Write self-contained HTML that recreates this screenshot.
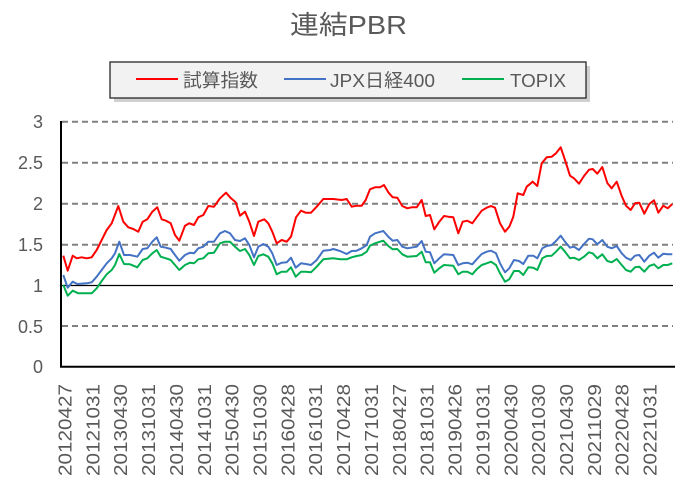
<!DOCTYPE html>
<html><head><meta charset="utf-8"><style>
body{margin:0;background:#fff;}
svg{display:block;font-family:"Liberation Sans","Noto Sans CJK JP",sans-serif;}
</style></head><body>
<svg width="694" height="485" viewBox="0 0 694 485">
<text x="290" y="34" font-size="26" fill="#595959" textLength="117" lengthAdjust="spacingAndGlyphs">連結PBR</text>
<rect x="114" y="66" width="476" height="36" fill="#aaa" opacity="0.55"/>
<rect x="110" y="62" width="476" height="36" fill="#f2f2f2" stroke="#262626" stroke-width="1.3"/>
<line x1="136" y1="79" x2="178" y2="79" stroke="#ff0000" stroke-width="2"/>
<text x="183" y="87" font-size="18.5" fill="#595959" textLength="75" lengthAdjust="spacingAndGlyphs">試算指数</text>
<line x1="284" y1="79" x2="326" y2="79" stroke="#4472c4" stroke-width="2"/>
<text x="330" y="87" font-size="18.5" fill="#595959" textLength="105" lengthAdjust="spacingAndGlyphs">JPX日経400</text>
<line x1="462" y1="79" x2="504" y2="79" stroke="#00b050" stroke-width="2"/>
<text x="510" y="87" font-size="18.5" fill="#595959" textLength="56" lengthAdjust="spacingAndGlyphs">TOPIX</text>
<g stroke="#808080" stroke-width="2" stroke-dasharray="6,4">
<line x1="62" y1="121.7" x2="673" y2="121.7"/>
<line x1="62" y1="162.8" x2="673" y2="162.8"/>
<line x1="62" y1="203.8" x2="673" y2="203.8"/>
<line x1="62" y1="244.7" x2="673" y2="244.7"/>
<line x1="62" y1="326" x2="673" y2="326"/>
</g>
<line x1="62" y1="285.5" x2="673" y2="285.5" stroke="#000" stroke-width="1.3"/>
<line x1="61" y1="121" x2="61" y2="367" stroke="#000" stroke-width="2"/>
<line x1="60" y1="366.7" x2="675" y2="366.7" stroke="#000" stroke-width="2"/>
<g font-size="18" fill="#595959" text-anchor="end">
<text x="43" y="128">3</text><text x="43" y="169">2.5</text><text x="43" y="210">2</text>
<text x="43" y="251">1.5</text><text x="43" y="292">1</text><text x="43" y="333">0.5</text><text x="43" y="373">0</text>
</g>
<g font-size="18" fill="#595959">
<text transform="translate(71.5,476) rotate(-90)" textLength="92" lengthAdjust="spacingAndGlyphs">20120427</text>
<text transform="translate(99.4,476) rotate(-90)" textLength="92" lengthAdjust="spacingAndGlyphs">20121031</text>
<text transform="translate(127.2,476) rotate(-90)" textLength="92" lengthAdjust="spacingAndGlyphs">20130430</text>
<text transform="translate(155.1,476) rotate(-90)" textLength="92" lengthAdjust="spacingAndGlyphs">20131031</text>
<text transform="translate(182.9,476) rotate(-90)" textLength="92" lengthAdjust="spacingAndGlyphs">20140430</text>
<text transform="translate(210.8,476) rotate(-90)" textLength="92" lengthAdjust="spacingAndGlyphs">20141031</text>
<text transform="translate(238.7,476) rotate(-90)" textLength="92" lengthAdjust="spacingAndGlyphs">20150430</text>
<text transform="translate(266.5,476) rotate(-90)" textLength="92" lengthAdjust="spacingAndGlyphs">20151030</text>
<text transform="translate(294.4,476) rotate(-90)" textLength="92" lengthAdjust="spacingAndGlyphs">20160428</text>
<text transform="translate(322.2,476) rotate(-90)" textLength="92" lengthAdjust="spacingAndGlyphs">20161031</text>
<text transform="translate(350.1,476) rotate(-90)" textLength="92" lengthAdjust="spacingAndGlyphs">20170428</text>
<text transform="translate(378,476) rotate(-90)" textLength="92" lengthAdjust="spacingAndGlyphs">20171031</text>
<text transform="translate(405.8,476) rotate(-90)" textLength="92" lengthAdjust="spacingAndGlyphs">20180427</text>
<text transform="translate(433.7,476) rotate(-90)" textLength="92" lengthAdjust="spacingAndGlyphs">20181031</text>
<text transform="translate(461.5,476) rotate(-90)" textLength="92" lengthAdjust="spacingAndGlyphs">20190426</text>
<text transform="translate(489.4,476) rotate(-90)" textLength="92" lengthAdjust="spacingAndGlyphs">20191031</text>
<text transform="translate(517.3,476) rotate(-90)" textLength="92" lengthAdjust="spacingAndGlyphs">20200430</text>
<text transform="translate(545.1,476) rotate(-90)" textLength="92" lengthAdjust="spacingAndGlyphs">20201030</text>
<text transform="translate(573,476) rotate(-90)" textLength="92" lengthAdjust="spacingAndGlyphs">20210430</text>
<text transform="translate(600.8,476) rotate(-90)" textLength="92" lengthAdjust="spacingAndGlyphs">20211029</text>
<text transform="translate(628.7,476) rotate(-90)" textLength="92" lengthAdjust="spacingAndGlyphs">20220428</text>
<text transform="translate(656.6,476) rotate(-90)" textLength="92" lengthAdjust="spacingAndGlyphs">20221031</text>
</g>
<g fill="none" stroke-width="2" stroke-linejoin="round">
<polyline stroke="#00b050" points="63.3,285 67.7,295.7 72.7,290.7 78.3,293.3 91.7,293.3 96.7,288.3 101.7,281 106.7,274.3 111.7,270 115,265 119.3,254 124,264 130,264.3 137.3,267.3 142.7,260 147.3,258.3 152.3,253.3 156.7,250 160.7,256.7 166,258.3 170.7,260 175,265 179.3,270 185,265 190,262.7 194,263.3 198.3,259.3 203.3,258.3 208.3,253.3 214,252.7 220,243.3 225,241.7 230,241.7 235,246.7 240,251 245,249 249.3,255 254,265 258.3,256 263.3,254.3 268.3,256.7 272.3,263.3 276.7,274.3 281.7,271.7 286.7,271.7 291,267.3 295.7,276.7 301,271.7 305.7,271.7 311,272.3 316.7,266.7 323.3,259.3 333.3,258.3 340,259.3 346.7,259.3 351.7,257.3 356.7,256 361.7,255 366.7,251.7 370,245.7 375,243.3 383.3,240.7 388.3,246 392.7,249.3 397.3,249 402.3,254.3 407.3,256.7 416.7,256 421.7,251.7 425.7,262.3 430,262.3 434.3,272.7 439.3,268.3 444,265 453.3,265.7 458.3,274.3 462.7,271.7 467.3,271.7 472.3,274.3 476.7,269.3 481.7,265 486.7,263.3 491,261.7 496,265 500,273.3 505,281.7 509.3,279.3 514,271 519,271 523.3,275 528.3,267.3 533.3,267.7 537.3,270 542.3,258.3 546.7,256 551.7,255.7 556,251.7 560.7,246.7 565,251.7 570,258.3 574,257.7 579,260 584,256.7 589,252.3 592.7,253.3 597.3,258.3 602.3,254.3 607.3,261 611.7,262.3 616.7,259 621.7,265 626,270 630.7,271.7 635,267.3 639.3,266.7 644.3,271.7 649.3,266 654,264.3 658.3,268.3 663.3,265 667.7,265 672.3,263.3"/>
<polyline stroke="#4472c4" points="63.3,275 67.7,287.7 72.7,281.7 77.3,284 86.7,283.3 91.7,282.3 96.7,276.7 101.7,270 106.7,263.3 111.7,258.3 115,253.3 119.3,241.7 124,255 130,255 137.3,256.7 142.7,249 147.3,248.3 152.3,241.7 156.7,237.3 160.7,246.7 166,247.7 170.7,249 175,255 179.3,260.7 185,255 190,252.7 194,253.3 198.3,248.3 203.3,246.7 208.3,241.7 214,241.7 220,233.3 225,231 230,233.3 235,240 240,241 245,238.3 249.3,245 254,257.3 258.3,246.7 263.3,244 268.3,246.7 272.3,253.3 276.7,265 281.7,262.7 286.7,262.3 291,257.7 295.7,267.7 301,263.3 305.7,264 311,265 316.7,260 323.3,250.7 330,250 333.3,249 340,251 346.7,254 351.7,251 356.7,250.7 361.7,248.3 366.7,245 370,236.7 375,233.3 383.3,231 388.3,236.7 392.7,240.7 397.3,240 402.3,246.7 407.3,248.3 416.7,246.7 421.7,241 425.7,251.7 430,252.3 434.3,263.3 439.3,258.3 444,254.3 453.3,255 458.3,265 462.7,263.3 467.3,262.7 472.3,264.3 476.7,259.3 481.7,254 486.7,251.7 491,250.7 496,253.3 500,263.3 505,272.3 509.3,268.3 514,260 519,261 523.3,264 528.3,255.7 533.3,255.7 537.3,258.3 542.3,248.3 546.7,246 551.7,245 556,241 560.7,235.7 565,241.7 570,247.7 574,246.7 579,250 584,244 589,238.7 592.7,239.3 597.3,244.3 602.3,240 607.3,246.7 611.7,248.3 616.7,246 621.7,253.3 626,257.7 630.7,260 635,255.7 639.3,255 644.3,261.7 649.3,255.7 654,252.7 658.3,257.7 663.3,253.7 667.7,254.3 672.3,254.3"/>
<polyline stroke="#ff0000" points="63.3,255.7 67.7,270.7 72.7,255.7 76.7,258.3 81.7,257.3 86.7,258.3 91.7,257.3 96.7,250 101.7,240 106.7,230 111.7,223.3 118.3,206 123.3,221.7 128.3,227.3 133.3,229 138.3,231.7 142.7,221.7 147.3,219.3 152.3,211.7 157.3,207.3 161.7,219.3 166,220.7 170.7,223.3 175,235 179.3,240.7 185,225.7 189.3,223.3 194,225 198.3,217.3 203.3,215 208.3,206 214,206.7 220,198.3 226,192.7 231,198.3 235.7,202.3 240,215.7 245,211.7 249.3,221.7 254,236 258.3,221.7 264.3,219.3 268.3,223.3 272.3,231.7 276.7,243.3 281.7,240 286.7,241.7 291,236.7 296,217.3 301,210.7 305.7,212.7 311,212.7 316.7,206.7 323.3,199 333.3,199 341.7,200 346.7,199 351.7,206.7 356.7,205.7 361.7,205.7 365.7,200 370,189.3 375,187.3 380,187.3 384,185 388.3,192.3 392.7,197.3 397.3,197.7 402.3,206 407.3,208.3 411.7,207.3 416.7,207.3 421.7,200 425.7,216 430,215 434.3,229.3 439.3,221.7 444,216 448.3,216.7 453.3,217.3 458.3,233.3 462.7,221.7 467.3,220.7 472.3,223.3 476.7,217.3 481.7,210.7 486.7,207.7 491,206 495,207.7 500,223.3 505,231.7 509.3,226.7 513.3,216.7 517.7,193.3 523.3,195 526.7,186.7 532.7,181.7 537.3,186 541.7,163.3 546.7,157.3 551.7,156.7 556,153.3 560.7,147.3 565,160 570,175.7 574,178.3 579,183.7 584,176 589,169.7 592.7,169 597.3,173.7 602.3,167 607.3,183 611.7,188.3 616.7,181.7 621.7,196 626,205.7 630.7,210 635,203.3 639.3,202.7 644.3,213.7 649.3,204 654,200.3 658.3,212.7 663.3,205.7 667.7,208.3 672.3,204"/>
</g>
</svg>
</body></html>
